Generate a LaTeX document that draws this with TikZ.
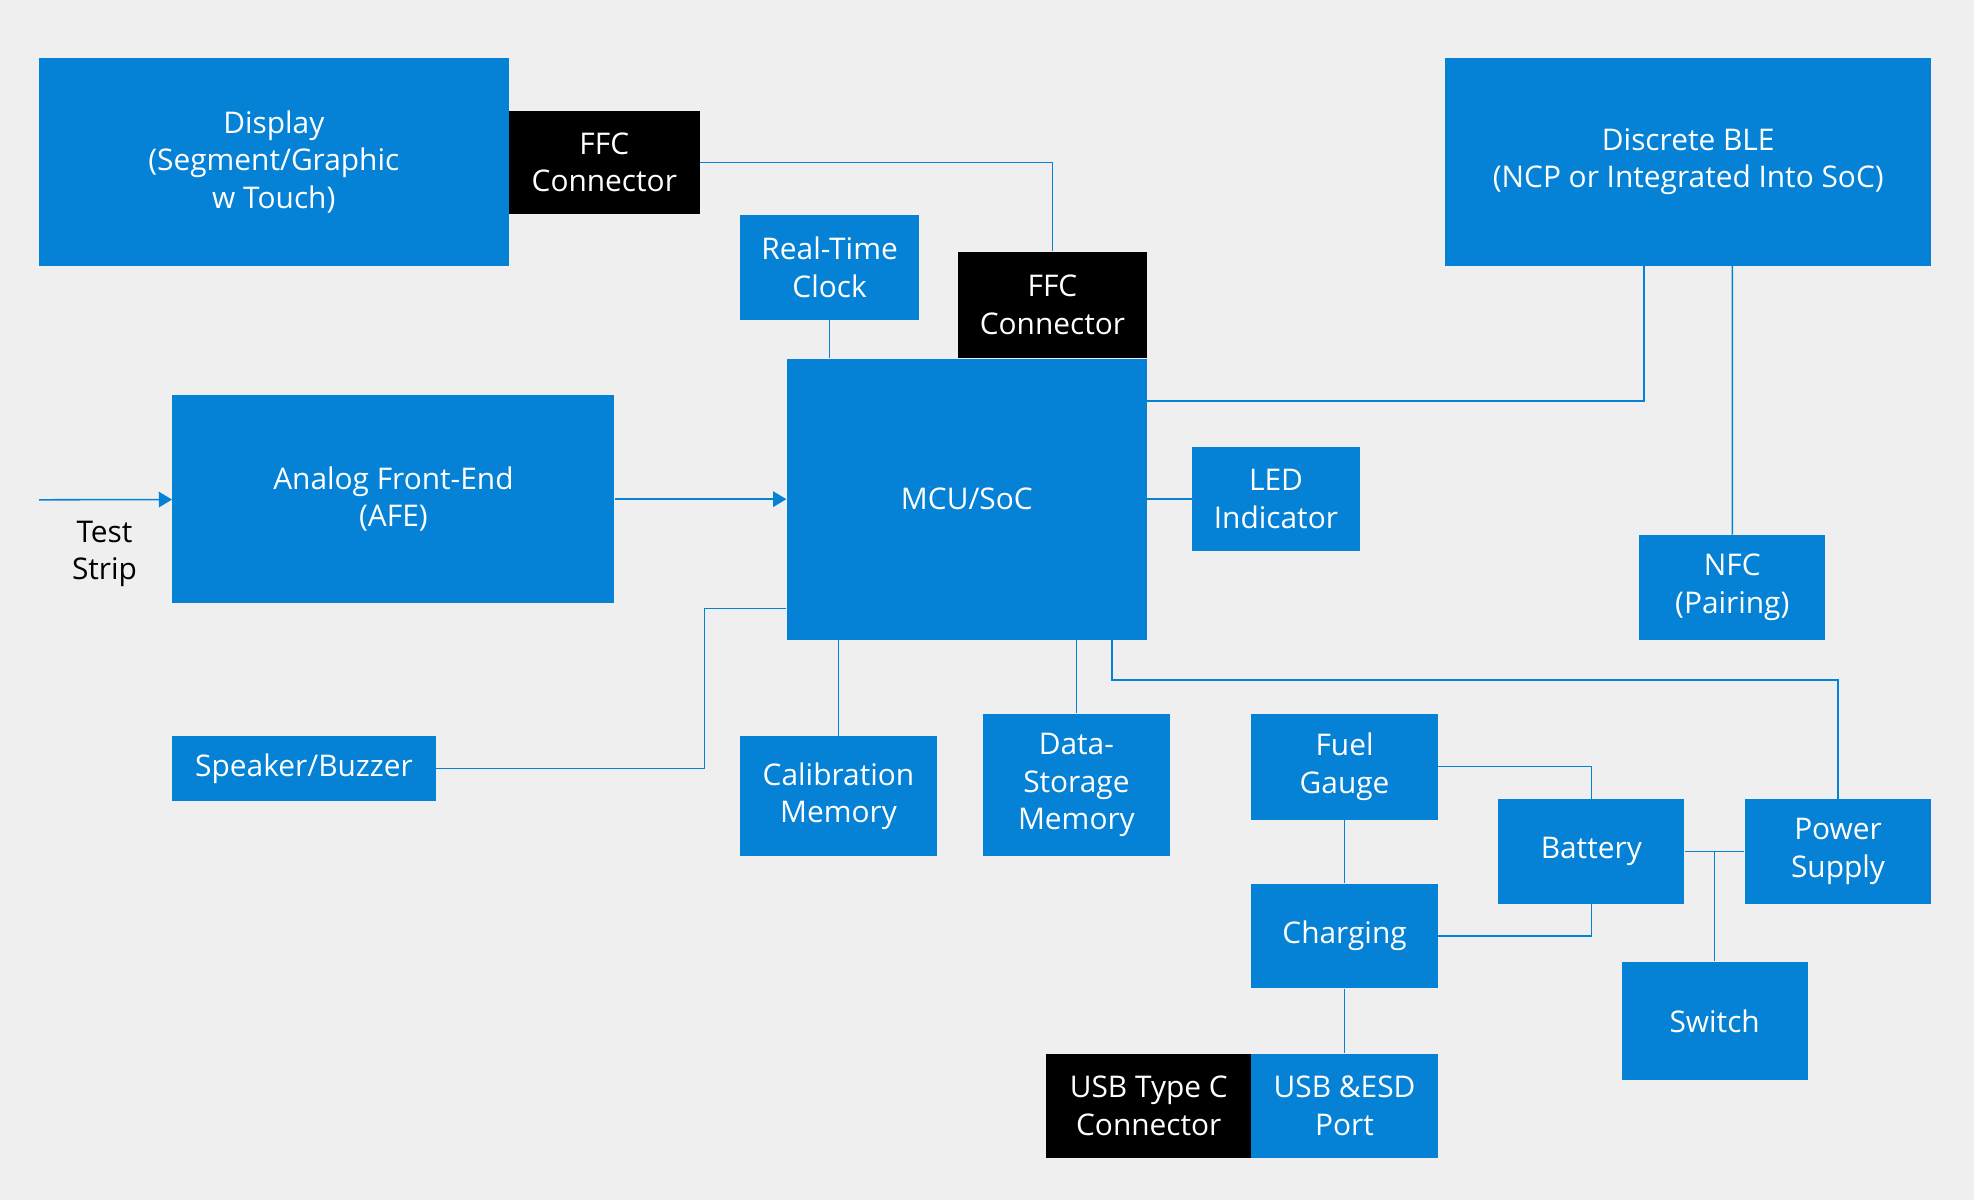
\documentclass[tikz,border=0pt]{standalone}
\usepackage{fontspec}
\setmainfont{Open Sans}
\usetikzlibrary{arrows.meta,calc}
\definecolor{intelblue}{HTML}{0582D6}
\definecolor{bgray}{HTML}{EFEFEF}
\tikzset{
  box/.style={fill=intelblue, text=white, align=center, inner sep=0pt, font=\fontsize{13.5}{17}\selectfont},
  dark/.style={box, fill=black},
  wire/.style={draw=intelblue, line width=0.7pt},
  arr/.style={wire, -{Triangle[length=6pt,width=7pt]}}
}
% block from its corners (in picture px), y measured downward
\newcommand\blk[7][box]{%
  \node[#1, minimum width={(#5-#3)*0.02cm}, minimum height={(#6-#4)*0.02cm}]
    (#2) at ({(#3+#5)/2},{-(#4+#6)/2}) {#7};}
\begin{document}
\begin{tikzpicture}[x=0.02cm,y=0.02cm]
\fill[bgray] (0,0) rectangle (1568,-953);
\useasboundingbox (0,0) rectangle (1568,-953);

\blk{disp}{31}{46}{404}{211}{Display\\(Segment/Graphic\\w Touch)}
\blk[dark]{ffca}{404}{88}{556}{170}{FFC\\Connector}
\blk{ble}{1148}{46}{1534}{211}{Discrete BLE\\(NCP or Integrated Into SoC)}
\blk{rtc}{588}{171}{730}{254}{Real-Time\\Clock}
\blk[dark]{ffcb}{761}{200}{911}{284}{FFC\\Connector}
\blk{afe}{137}{314}{488}{479}{Analog Front-End\\(AFE)}
\blk{mcu}{625}{285}{911}{508}{MCU/SoC}
\blk{led}{947}{355}{1080}{438}{LED\\Indicator}
\blk{nfc}{1302}{425}{1450}{508}{NFC\\(Pairing)}
\blk{spk}{137}{585}{346}{636}{Speaker/Buzzer}
\blk{cal}{588}{585}{744}{680}{Calibration\\Memory}
\blk{data}{781}{567}{929}{680}{Data-\\Storage\\Memory}
\blk{fuel}{994}{567}{1142}{651}{Fuel\\Gauge}
\blk{bat}{1190}{635}{1338}{718}{Battery}
\blk{pow}{1386}{635}{1534}{718}{Power\\Supply}
\blk{chg}{994}{702}{1142}{785}{Charging}
\blk{sw}{1288}{764}{1436}{858}{Switch}
\blk[dark]{usbc}{831}{837}{994}{920}{USB Type C\\Connector}
\blk{usb}{994}{837}{1142}{920}{USB \&ESD\\Port}

\coordinate (ts) at (31,-397);
\node[align=center, font=\fontsize{13.5}{17}\selectfont] (tsl) at (83,-440) {Test\\Strip};

\draw[wire] (ffca) -| (ffcb);
\draw[wire] (rtc.south) -- (rtc.south |- mcu.north);
\draw[wire] ([yshift=-0.68cm]mcu.north east) -| ([xshift=-0.7cm]ble.south);
\draw[wire] ([xshift=0.7cm]ble.south) -- (nfc);
\draw[arr] (ts) -- (afe);
\draw[arr] (afe) -- (mcu);
\draw[wire] (mcu) -- (led);
\draw[wire] ([yshift=0.5cm]mcu.south west) -- ++(-65,0) |- (spk);
\draw[wire] (cal.north) -- (cal.north |- mcu.south);
\draw[wire] (data.north) -- (data.north |- mcu.south);
\draw[wire] ([xshift=-0.56cm]mcu.south east) -- ++(0,-32) -| (pow);
\draw[wire] (fuel) -| (bat);
\draw[wire] (fuel) -- (chg);
\draw[wire] (chg) -| (bat);
\draw[wire] (bat) -- (pow);
\draw[wire] (sw) -- (sw |- bat);
\draw[wire] (chg) -- (usb);
\end{tikzpicture}
\end{document}
